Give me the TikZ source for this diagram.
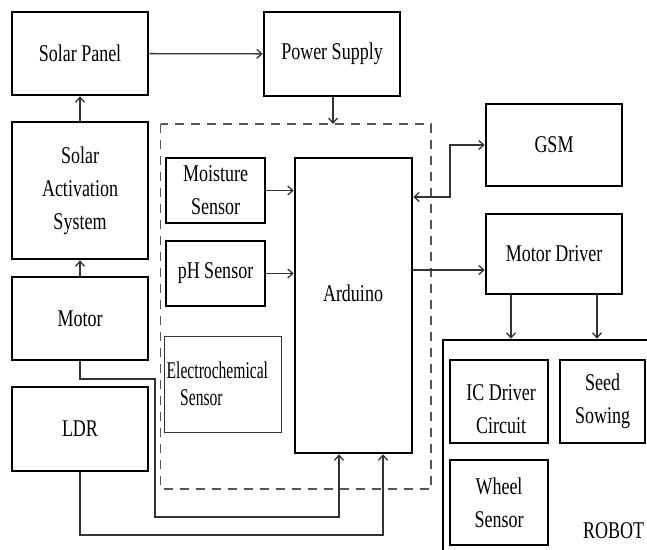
\documentclass[tikz,border=0pt]{standalone}
\usepackage{fontspec}
\setmainfont{Liberation Serif}[FakeStretch=0.75]
\newfontfamily\narrowfont{Liberation Serif}[FakeStretch=0.65]
\usetikzlibrary{arrows.meta}
\definecolor{linegray}{HTML}{333333}
\definecolor{dashgray}{HTML}{555555}
\tikzset{
  blk/.style={draw=black, line width=2.6pt, inner sep=0pt, align=center,
    font=\fontsize{24}{33}\selectfont, text=black},
  thinblk/.style={draw=black!80, line width=1pt, inner sep=0pt},
  txt/.style={inner sep=0pt, align=center, font=\fontsize{24}{33}\selectfont},
  conn/.style={draw=linegray, line width=1.3pt, -{Straight Barb[length=5pt,width=9pt]}},
  biconn/.style={draw=linegray, line width=1.3pt, {Straight Barb[length=5pt,width=9pt]}-{Straight Barb[length=5pt,width=9pt]}},
  dashbox/.style={draw=dashgray, line width=1.8pt, dash pattern=on 9pt off 7pt}
}
\begin{document}
\begin{tikzpicture}[x=1pt,y=-1pt]
\useasboundingbox (0,0) rectangle (647,549);
\fill[white] (0,0) rectangle (647,549);
\clip (0,0) rectangle (647,549);

% dashed controller frame
\draw[dashbox] (160.5,124) rectangle (431,489);
\coordinate (dtop) at (333,124);

% left column
\node[blk, minimum width=136pt, minimum height=83pt] (sp) at (80,53.5) {Solar Panel};
\node[blk, minimum width=136pt, minimum height=84pt] (ps) at (332,54) {Power Supply};
\node[blk, minimum width=136pt, minimum height=137pt] (sas) at (80,190.5) {Solar\\Activation\\System};
\node[blk, minimum width=136pt, minimum height=83pt] (mot) at (80,318.5) {Motor};
\node[blk, minimum width=136pt, minimum height=84pt] (ldr) at (80,429) {LDR};

% sensors and arduino
\node[blk, minimum width=99pt, minimum height=65pt] (ms) at (215.5,190.5) {Moisture\\Sensor};
\node[blk, minimum width=99pt, minimum height=65pt] (ph) at (215.5,273.5) {pH Sensor};
\node[thinblk, minimum width=117pt, minimum height=96pt] (ec) at (222.5,384) {};
\node[inner sep=0pt, anchor=base west, font=\narrowfont\fontsize{24}{28}\selectfont] (ect1) at (166.5,378) {Electrochemical};
\node[inner sep=0pt, anchor=base west, font=\narrowfont\fontsize{24}{28}\selectfont] (ect2) at (180,405) {Sensor};
\node[blk, minimum width=117pt, minimum height=295pt] (ard) at (353.5,305.5) {};
\node[txt] (ardt) at (353,293) {Arduino};

% right column
\node[blk, minimum width=136pt, minimum height=82pt] (gsm) at (554,145) {GSM};
\node[blk, minimum width=136pt, minimum height=80pt] (md) at (554,254) {Motor Driver};
\node[blk, minimum width=222pt, minimum height=225pt] (robot) at (554,452.5) {};
\node[blk, minimum width=98pt, minimum height=83pt] (ic) at (499,401.5) {};
\node[txt] (ict) at (501,409) {IC Driver\\Circuit};
\node[blk, minimum width=85pt, minimum height=83pt] (ss) at (602.5,401.5) {Seed\\Sowing};
\node[blk, minimum width=98pt, minimum height=85pt] (ws) at (499,502.5) {Wheel\\Sensor};
\node[inner sep=0pt, anchor=base west, font=\fontsize{24}{33}\selectfont] (rob) at (583,538) {ROBOT};

% connectors
\draw[conn] (sp) -- (ps);
\draw[conn] (ps.south -| dtop) -- (dtop);
\draw[conn] (sas) -- (sp);
\draw[conn] (mot) -- (sas);
\draw[conn] (ms.east) -- (ms.east -| ard.west);
\draw[conn] (ph.east) -- (ph.east -| ard.west);

\coordinate (m0) at (155,379);
\coordinate (m1) at (339,517);
\draw[conn] (mot.south) |- (m0) |- (m1) -- (m1 |- ard.south);
\coordinate (m2) at (383,535);
\draw[conn] (ldr.south) |- (m2) -- (m2 |- ard.south);

\coordinate (g1) at (450,197);
\draw[biconn] (g1 -| ard.east) -- (g1) |- (gsm.west);
\coordinate (g2) at (486,270);
\draw[conn] (g2 -| ard.east) -- (g2 -| md.west);

\coordinate (r1) at (511,340);
\coordinate (r2) at (597,340);
\draw[conn] (r1 |- md.south) -- (r1 |- robot.north);
\draw[conn] (r2 |- md.south) -- (r2 |- robot.north);
\end{tikzpicture}
\end{document}
